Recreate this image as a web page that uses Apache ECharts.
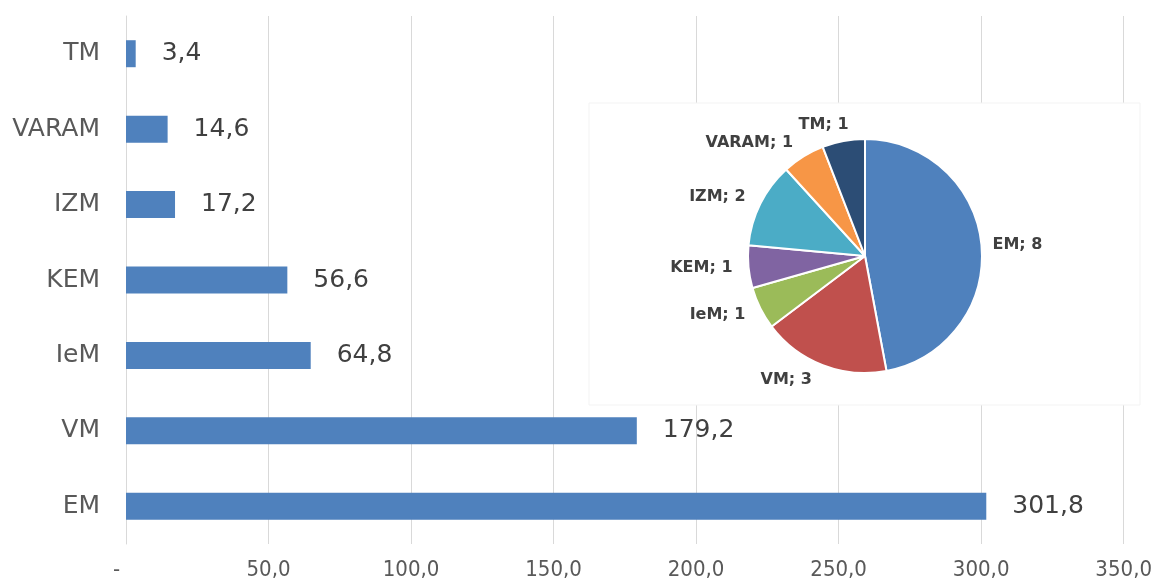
<!DOCTYPE html>
<html>
<head>
<meta charset="utf-8">
<script src="https://cdn.jsdelivr.net/npm/echarts@6/dist/echarts.min.js"></script>
<style>
html, body { margin: 0; padding: 0; background: #fff; }
#main { width: 1155px; height: 581px; }
</style>
</head>
<body>
<div id="main"></div>
<script>
// bar part (bottom to top)
var categories = ['EM', 'VM', 'IeM', 'KEM', 'IZM', 'VARAM', 'TM'];
var amounts = [301.8, 179.2, 64.8, 56.6, 17.2, 14.6, 3.4];
var tickLabels = ['-', '50,0', '100,0', '150,0', '200,0', '250,0', '300,0', '350,0'];

// pie part (clockwise from top)
var pieNames = ['EM', 'VM', 'IeM', 'KEM', 'IZM', 'VARAM', 'TM'];
var pieCounts = [8, 3, 1, 1, 2, 1, 1];
var pieColors = ['#4f81bd', '#c0504d', '#9bbb59', '#8064a2', '#4bacc6', '#f79646', '#2c4d75'];

function comma(v) {
    return v.toFixed(1).replace('.', ',');
}

// small per-slice nudges so labels sit where the original put them
var pieLabelTweaks = {
    EM: { labelLine: { length: 6 } },
    TM: { label: { offset: [13, 0] } }
};

var myChart = echarts.init(document.getElementById('main'));
var option = {
    backgroundColor: '#fff',
    animation: false,
    grid: {
        left: 126,
        right: 28,
        top: 16,
        bottom: 35
    },
    xAxis: {
        type: 'value',
        min: 0,
        max: 350,
        interval: 50,
        axisLine: { show: false },
        axisTick: { show: false },
        splitLine: { lineStyle: { color: '#d9d9d9', width: 1 } },
        axisLabel: {
            margin: 15,
            fontFamily: 'DejaVu Sans Condensed',
            fontSize: 22,
            color: '#595959',
            formatter: function (v) {
                var i = Math.round(v / 50);
                // the dash sits a little left of the axis, as in the original
                return i === 0 ? tickLabels[i] + '   ' : tickLabels[i];
            }
        }
    },
    yAxis: {
        type: 'category',
        data: categories,
        axisLine: { show: true, lineStyle: { color: '#d9d9d9' } },
        axisTick: { show: false },
        axisLabel: {
            margin: 26,
            fontFamily: 'DejaVu Sans',
            fontSize: 25,
            color: '#595959'
        }
    },
    graphic: {
        elements: [
            {
                type: 'rect',
                z: 3,
                shape: { x: 589, y: 103, width: 551, height: 302 },
                style: { fill: '#fff', stroke: '#f3f3f3', lineWidth: 1 }
            }
        ]
    },
    series: [
        {
            name: 'amount',
            type: 'bar',
            data: amounts,
            barWidth: 27,
            itemStyle: { color: '#4f81bd' },
            label: {
                show: true,
                position: 'right',
                distance: 26,
                fontFamily: 'DejaVu Sans',
                fontSize: 25,
                color: '#404040',
                formatter: function (p) {
                    return comma(p.value);
                }
            }
        },
        {
            name: 'count',
            type: 'pie',
            z: 10,
            center: [865, 256],
            radius: 117,
            startAngle: 90,
            clockwise: true,
            itemStyle: { borderColor: '#fff', borderWidth: 2 },
            label: {
                show: true,
                position: 'outside',
                fontFamily: 'DejaVu Sans',
                fontWeight: 'bold',
                fontSize: 16,
                color: '#404040',
                formatter: '{b}; {c}'
            },
            labelLine: { show: false, length: 16, length2: 0 },
            data: pieNames.map(function (n, i) {
                var d = { name: n, value: pieCounts[i], itemStyle: { color: pieColors[i] } };
                var t = pieLabelTweaks[n];
                if (t) {
                    if (t.label) d.label = t.label;
                    if (t.labelLine) d.labelLine = t.labelLine;
                }
                return d;
            })
        }
    ]
};
myChart.setOption(option);
</script>
</body>
</html>
